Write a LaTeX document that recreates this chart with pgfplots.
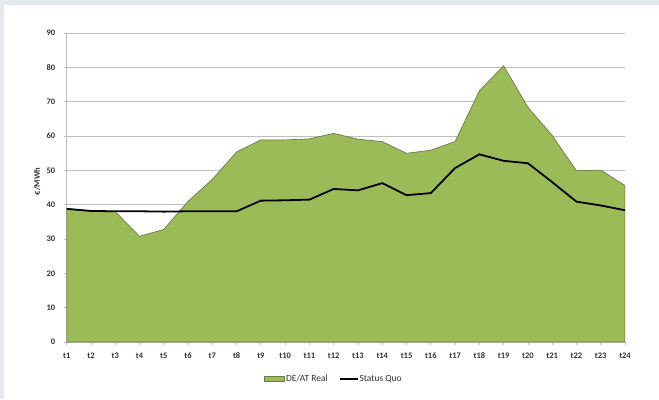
\documentclass[border=0pt]{standalone}
\usepackage{fontspec}
\setmainfont{Carlito}
\usepackage{pgfplots}
\pgfplotsset{compat=1.18}
\definecolor{bgouter}{HTML}{E3EAEE}
\definecolor{areagreen}{HTML}{9BBB59}
\definecolor{areaedge}{HTML}{6B7C45}
\definecolor{gridgray}{HTML}{BEBEBE}
\definecolor{labelgray}{HTML}{333333}

\begin{document}
\begin{tikzpicture}[x=1bp,y=1bp]
\fill[bgouter] (0,0) rectangle (659,399);
\fill[white] (4,0) rectangle (659,394);
\useasboundingbox (0,0) rectangle (659,399);
\begin{axis}[
  at={(66.7bp,57bp)}, anchor=south west,
  scale only axis, width=558.3bp, height=308.8bp,
  xmin=1, xmax=24, ymin=0, ymax=90,
  xtick={1,...,24},
  xticklabels={t1,t2,t3,t4,t5,t6,t7,t8,t9,t10,t11,t12,t13,t14,t15,t16,t17,t18,t19,t20,t21,t22,t23,t24},
  ytick={0,10,...,90},
  axis x line*=bottom, axis y line*=left,
  axis line style={gridgray, line width=0.8bp, -},
  tick align=outside, major tick length=3bp,
  tick style={gridgray, line width=0.8bp},
  ymajorgrids, grid style={gridgray, line width=1bp},
  /pgf/number format/assume math mode=true,
  tick label style={font=\fontsize{8.5}{10}\selectfont\bfseries, text=labelgray},
  xticklabel style={yshift=-4bp},
  yticklabel style={xshift=-5bp},
  ylabel={\bfseries €/MWh},
  ylabel style={at={(axis description cs:-0.053,0.52)}, anchor=center, font=\fontsize{8.5}{10}\selectfont, text=labelgray},
  legend style={at={(axis description cs:0.478,-0.12)}, anchor=center, draw=none, fill=none,
    font=\fontsize{9.5}{11}\selectfont, text=labelgray, legend columns=2,
    nodes={inner sep=1bp},
    /tikz/every even column/.append style={column sep=10bp}},
]
\addplot[fill=areagreen, draw=areaedge, line width=0.7bp,
  legend image code/.code={\draw[areaedge, fill=areagreen, line width=0.6bp] (0bp,-2.5bp) rectangle (20bp,2.5bp);}]
 coordinates {
 (1,39.0) (2,38.0) (3,38.0) (4,30.8) (5,32.8) (6,41.0) (7,47.4) (8,55.4)
 (9,58.9) (10,58.9) (11,59.2) (12,60.8) (13,59.1) (14,58.4) (15,55.0) (16,55.9)
 (17,58.4) (18,73.2) (19,80.5) (20,68.4) (21,60.2) (22,49.9) (23,50.1) (24,45.6)
} \closedcycle;
\addlegendentry{DE/AT Real}
\addplot[black, line width=1.8bp,
  legend image code/.code={\draw[black, line width=1.8bp] (0bp,0bp) -- (18bp,0bp);}]
 coordinates {
 (1,38.8) (2,38.2) (3,38.1) (4,38.1) (5,38.0) (6,38.1) (7,38.1) (8,38.1)
 (9,41.2) (10,41.3) (11,41.5) (12,44.6) (13,44.2) (14,46.3) (15,42.8) (16,43.4)
 (17,50.7) (18,54.7) (19,52.8) (20,52.1) (21,46.6) (22,40.9) (23,39.8) (24,38.4)
};
\addlegendentry{Status Quo}
\end{axis}
\end{tikzpicture}
\end{document}
